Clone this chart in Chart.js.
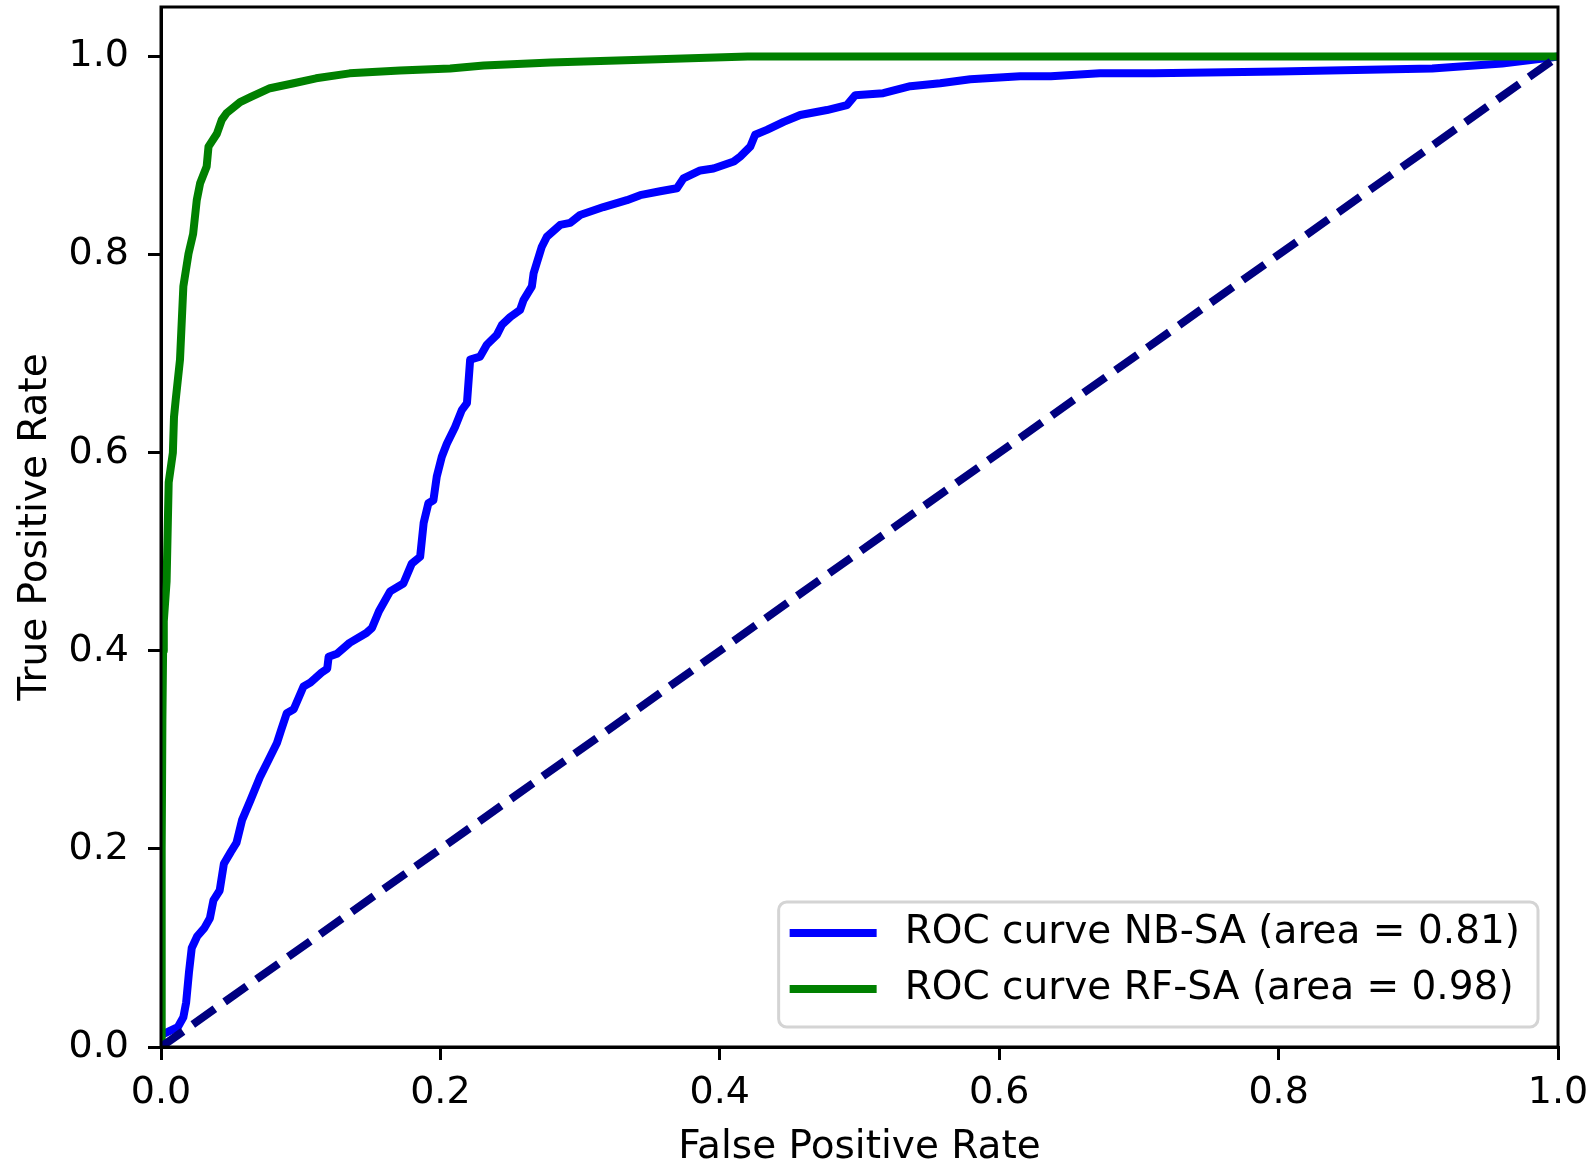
<!DOCTYPE html>
<html>
  <head>
    <meta charset="utf-8" />
    <title>ROC curves NB-SA / RF-SA</title>
    <style>
      html, body {
        margin: 0;
        padding: 0;
        background: #fff;
        overflow: hidden;
      }
      canvas { display: block; }
    </style>
  </head>
  <body>
    <script src="https://cdn.jsdelivr.net/npm/chart.js@4/dist/chart.umd.min.js"></script>
    <canvas id="chart" width="1595" height="1162"></canvas>

    <script>
      // tick values
      const xTicks = [0, 0.2, 0.4, 0.6, 0.8, 1.0];
      const yTicks = [0, 0.2, 0.4, 0.6, 0.8, 1.0];

      // NB-SA curve
      const nbLabel = "ROC curve NB-SA (area = 0.81)";
      const nbFpr = [0, 0, 0.006, 0.012, 0.016, 0.018, 0.02, 0.022, 0.026, 0.031, 0.035, 0.0375, 0.042, 0.045, 0.05,
        0.054, 0.058, 0.064, 0.071, 0.076, 0.083, 0.086, 0.09, 0.095, 0.102, 0.107, 0.115, 0.119, 0.12, 0.126,
        0.135, 0.147, 0.151, 0.156, 0.164, 0.1735, 0.1795, 0.1855, 0.188, 0.1914, 0.195, 0.1974, 0.201, 0.2046,
        0.2105, 0.2153, 0.219, 0.2213, 0.2284, 0.2332, 0.2404, 0.244, 0.25, 0.257, 0.2595, 0.2655, 0.2667, 0.2726,
        0.2762, 0.2857, 0.2929, 0.3, 0.3167, 0.3335, 0.343, 0.3573, 0.3693, 0.374, 0.386, 0.3955, 0.41, 0.4146,
        0.4218, 0.4253, 0.4337, 0.4457, 0.4576, 0.4767, 0.491, 0.497, 0.517, 0.5364, 0.5578, 0.5793, 0.615, 0.637,
        0.672, 0.711, 0.8, 0.91, 0.96, 0.995, 1];
      const nbTpr = [0, 0.012, 0.016, 0.02, 0.03, 0.045, 0.075, 0.1, 0.112, 0.12, 0.13, 0.148, 0.158, 0.185, 0.197,
        0.206, 0.229, 0.249, 0.273, 0.287, 0.307, 0.32, 0.337, 0.341, 0.364, 0.368, 0.378, 0.382, 0.394, 0.397,
        0.408, 0.418, 0.423, 0.44, 0.46, 0.468, 0.488, 0.495, 0.529, 0.549, 0.552, 0.576, 0.596, 0.609,
        0.626, 0.643, 0.65, 0.694, 0.697, 0.709, 0.719, 0.729, 0.737, 0.744, 0.754, 0.768, 0.781, 0.808,
        0.818, 0.83, 0.832, 0.84, 0.848, 0.855, 0.86, 0.864, 0.867, 0.877, 0.885, 0.887, 0.894, 0.899,
        0.909, 0.921, 0.926, 0.934, 0.941, 0.946, 0.951, 0.961, 0.963, 0.97, 0.973, 0.977, 0.98, 0.98,
        0.983, 0.983, 0.985, 0.988, 0.993, 0.999, 1];

      // RF-SA curve
      const rfLabel = "ROC curve RF-SA (area = 0.98)";
      const rfFpr = [0, 0.0005, 0.001, 0.0015, 0.002, 0.004, 0.0055, 0.0075, 0.0085, 0.0093, 0.0105, 0.0136, 0.016,
        0.0197, 0.023, 0.0256, 0.028, 0.0327, 0.034, 0.04, 0.0435, 0.047, 0.0566, 0.064, 0.078, 0.095, 0.111,
        0.135, 0.171, 0.207, 0.231, 0.279, 0.35, 0.42, 1];
      const rfTpr = [0, 0.2, 0.33, 0.4, 0.43, 0.47, 0.57, 0.59, 0.6, 0.636, 0.653, 0.694, 0.768,
        0.801, 0.821, 0.855, 0.872, 0.889, 0.909, 0.922, 0.936, 0.943, 0.954, 0.959, 0.968, 0.973, 0.978,
        0.983, 0.986, 0.988, 0.991, 0.994, 0.997, 1.0, 1.0];

      // chance line
      const diagFpr = [0, 1];
      const diagTpr = [0, 1];

      const toPoints = (xs, ys) => xs.map((x, i) => ({ x: x, y: ys[i] }));

      Chart.defaults.font.family = "'DejaVu Sans'";
      Chart.defaults.font.size = 38;
      Chart.defaults.color = "#000";

      // matplotlib-like box round the axes
      const spines = {
        id: "spines",
        afterDatasetsDraw(chart) {
          const { ctx, chartArea: a } = chart;
          ctx.save();
          ctx.strokeStyle = "#000";
          ctx.lineWidth = 3;
          ctx.strokeRect(a.left, a.top, a.right - a.left, a.bottom - a.top);
          ctx.restore();
        }
      };

      // legend box in the lower right corner
      const rocLegend = {
        id: "rocLegend",
        afterDatasetsDraw(chart) {
          const { ctx, chartArea } = chart;
          const items = chart.data.datasets.filter(d => d.label);
          ctx.save();
          ctx.font = "39px 'DejaVu Sans'";
          const textW = Math.max(...items.map(d => ctx.measureText(d.label).width));
          const w = 126 + textW + 18;
          const h = 125;
          const x = chartArea.right - 20 - w;
          const y = chartArea.bottom - 20 - h;
          ctx.beginPath();
          ctx.roundRect(x, y, w, h, 8);
          ctx.fillStyle = "rgba(255,255,255,0.8)";
          ctx.fill();
          ctx.strokeStyle = "#d4d4d4";
          ctx.lineWidth = 3;
          ctx.stroke();
          items.forEach((d, i) => {
            const ly = y + 31 + i * 56;
            ctx.beginPath();
            ctx.moveTo(x + 11, ly);
            ctx.lineTo(x + 98, ly);
            ctx.strokeStyle = d.borderColor;
            ctx.lineWidth = 8;
            ctx.stroke();
            ctx.fillStyle = "#000";
            ctx.textBaseline = "middle";
            ctx.textAlign = "left";
            ctx.fillText(d.label, x + 126, ly);
          });
          ctx.restore();
        }
      };

      const chart = new Chart("chart", {
        type: "line",
        data: {
          datasets: [
            {
              label: nbLabel,
              data: toPoints(nbFpr, nbTpr),
              borderColor: "#0000ff",
              borderWidth: 8,
              borderJoinStyle: "round",
              pointRadius: 0,
              tension: 0,
              order: 2
            },
            {
              label: rfLabel,
              data: toPoints(rfFpr, rfTpr),
              borderColor: "#008000",
              borderWidth: 8,
              borderJoinStyle: "round",
              pointRadius: 0,
              tension: 0,
              order: 1
            },
            {
              label: "",
              data: toPoints(diagFpr, diagTpr),
              borderColor: "#000080",
              borderWidth: 8,
              borderDash: [27, 12],
              borderCapStyle: "butt",
              pointRadius: 0,
              tension: 0,
              order: 0
            }
          ]
        },
        options: {
          responsive: false,
          animation: false,
          devicePixelRatio: 1,
          layout: { padding: { left: 0, top: 7, right: 37, bottom: 0 } },
          plugins: {
            legend: { display: false },
            tooltip: { enabled: false }
          },
          scales: {
            x: {
              type: "linear",
              min: 0,
              max: 1,
              afterBuildTicks: s => { s.ticks = xTicks.map(v => ({ value: v })); },
              afterFit: s => { s.height = 115; s.paddingLeft = 0; s.paddingRight = 0; },
              ticks: { callback: v => v.toFixed(1), padding: 10, autoSkip: false, maxRotation: 0 },
              grid: { drawOnChartArea: false, tickLength: 13, color: "#000", lineWidth: 3 },
              border: { color: "#000", width: 3 },
              title: {
                display: true,
                text: "False Positive Rate",
                font: { size: 39, lineHeight: 0.7 },
                padding: { top: 0, bottom: 0 }
              }
            },
            y: {
              type: "linear",
              min: 0,
              max: 1.05,
              afterBuildTicks: s => { s.ticks = yTicks.map(v => ({ value: v })); },
              afterFit: s => { s.width = 161; s.paddingTop = 0; s.paddingBottom = 0; },
              ticks: { callback: v => v.toFixed(1), padding: 19, autoSkip: false },
              grid: { drawOnChartArea: false, tickLength: 13, color: "#000", lineWidth: 3 },
              border: { color: "#000", width: 3 },
              title: {
                display: true,
                text: "True Positive Rate",
                font: { size: 39, lineHeight: 1 },
                padding: { top: 16, bottom: 0 }
              }
            }
          }
        },
        plugins: [spines, rocLegend]
      });
    </script>
  </body>
</html>
